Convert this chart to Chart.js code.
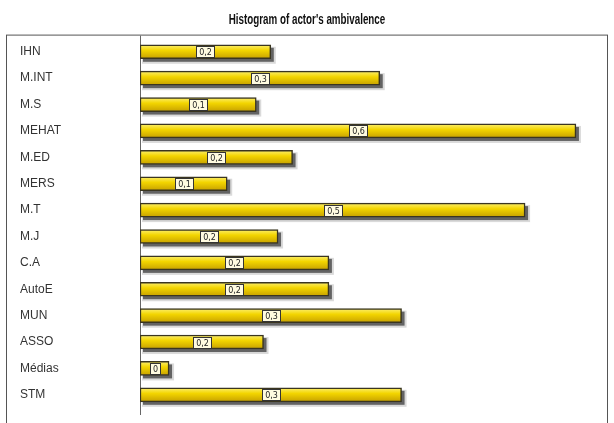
<!DOCTYPE html>
<html lang="en">
<head>
  <meta charset="UTF-8" />
  <title>Histogram of actor's ambivalence</title>
  <script src="https://cdn.jsdelivr.net/npm/chart.js"></script>
  <style>
    html, body { margin: 0; padding: 0; background: #fff; }
    #wrap { width: 614px; height: 423px; }
  </style>
</head>
<body>
  <div id="wrap"><canvas id="ambChart" width="614" height="423"></canvas></div>

  <script>
    const chartTitle = "Histogram of actor's ambivalence";
    const actors = ['IHN', 'M.INT', 'M.S', 'MEHAT', 'M.ED', 'MERS', 'M.T', 'M.J', 'C.A', 'AutoE', 'MUN', 'ASSO', 'Médias', 'STM'];
    const ambivalence = [0.18, 0.33, 0.16, 0.60, 0.21, 0.12, 0.53, 0.19, 0.26, 0.26, 0.36, 0.17, 0.04, 0.36];
    const valueLabels = ['0,2', '0,3', '0,1', '0,6', '0,2', '0,1', '0,5', '0,2', '0,2', '0,2', '0,3', '0,2', '0', '0,3'];

    // yellow gradient per bar
    function barFill(c) {
      const chart = c.chart;
      if (!chart.chartArea) return '#ecd000';
      const y = chart.scales.y.getPixelForValue(c.dataIndex);
      const g = chart.ctx.createLinearGradient(0, y - 7, 0, y + 7);
      g.addColorStop(0, '#fcef70');
      g.addColorStop(0.4, '#f3d500');
      g.addColorStop(1, '#c6a000');
      return g;
    }

    const framePlugin = {
      id: 'frame',
      beforeDraw(chart) {
        const { ctx, chartArea } = chart;
        ctx.save();
        ctx.strokeStyle = '#555';
        ctx.lineWidth = 1;
        ctx.strokeRect(6.5, chartArea.top - 3.5, 601, chart.height);
        ctx.beginPath();
        ctx.moveTo(chartArea.left + 0.5, chartArea.top - 3);
        ctx.lineTo(chartArea.left + 0.5, chartArea.bottom + 7);
        ctx.strokeStyle = '#666';
        ctx.stroke();
        ctx.restore();
      },
      // grey drop shadow under each bar
      beforeDatasetsDraw(chart) {
        const ctx = chart.ctx;
        const meta = chart.getDatasetMeta(0);
        ctx.save();
        meta.data.forEach(bar => {
          const h = bar.height;
          ctx.fillStyle = 'rgba(150,150,150,0.35)';
          ctx.fillRect(bar.base + 2, bar.y - h / 2 + 2, bar.x - bar.base + 3, h + 3);
          ctx.fillStyle = 'rgba(70,70,70,0.8)';
          ctx.fillRect(bar.base + 3, bar.y - h / 2 + 3, bar.x - bar.base, h);
        });
        ctx.restore();
      },
      afterDatasetsDraw(chart) {
        const ctx = chart.ctx;
        const meta = chart.getDatasetMeta(0);
        ctx.save();
        ctx.font = '8px "DejaVu Sans", sans-serif';
        ctx.textAlign = 'center';
        ctx.textBaseline = 'middle';
        meta.data.forEach((bar, i) => {
          const cx = (bar.base + bar.x) / 2;
          const cy = bar.y;
          const txt = valueLabels[i];
          const w = Math.round(ctx.measureText(txt).width + 5);
          const h = 11;
          const x0 = Math.round(cx - w / 2);
          const y0 = Math.round(cy - h / 2);
          ctx.fillStyle = '#fffbe0';
          ctx.fillRect(x0, y0, w, h);
          ctx.strokeStyle = '#333';
          ctx.lineWidth = 1;
          ctx.strokeRect(x0 + 0.5, y0 + 0.5, w, h);
          ctx.fillStyle = '#222';
          ctx.fillText(txt, x0 + w / 2 + 0.5, y0 + h / 2 + 1);
        });
        ctx.restore();
      },
      // condensed bold title (narrow font is not installed)
      afterDraw(chart) {
        const ctx = chart.ctx;
        const t = chart.titleBlock;
        ctx.save();
        ctx.font = 'bold 14px Arial, "Liberation Sans", sans-serif';
        ctx.fillStyle = '#111';
        ctx.textAlign = 'center';
        ctx.textBaseline = 'middle';
        ctx.translate(chart.width / 2, (t.top + t.bottom) / 2 - 1);
        ctx.scale(0.7, 1);
        ctx.fillText(chartTitle, 0, 0);
        ctx.restore();
      }
    };

    const ctx = document.getElementById('ambChart').getContext('2d');
    new Chart(ctx, {
      type: 'bar',
      data: {
        labels: actors,
        datasets: [{
          label: 'Ambivalence',
          data: ambivalence,
          backgroundColor: barFill,
          borderColor: '#3a3520',
          borderWidth: 1.5,
          borderSkipped: false,
          barThickness: 14
        }]
      },
      options: {
        indexAxis: 'y',
        responsive: false,
        animation: false,
        layout: { padding: { left: 20, right: 9, top: 3, bottom: 15 } },
        plugins: {
          legend: { display: false },
          tooltip: { enabled: false },
          title: {
            display: true,
            text: chartTitle,
            color: 'rgba(0,0,0,0)',
            font: { family: 'Arial, "Liberation Sans", sans-serif', size: 13, weight: 'bold' },
            padding: { top: 8, bottom: 12 }
          }
        },
        scales: {
          x: { display: false, min: 0, max: 0.64 },
          y: {
            grid: { display: false },
            border: { display: false },
            ticks: {
              crossAlign: 'far',
              color: '#333',
              font: { family: 'Arial, "Liberation Sans", sans-serif', size: 12 }
            },
            afterFit(scale) { scale.width = 120; }
          }
        }
      },
      plugins: [framePlugin]
    });
  </script>
</body>
</html>
